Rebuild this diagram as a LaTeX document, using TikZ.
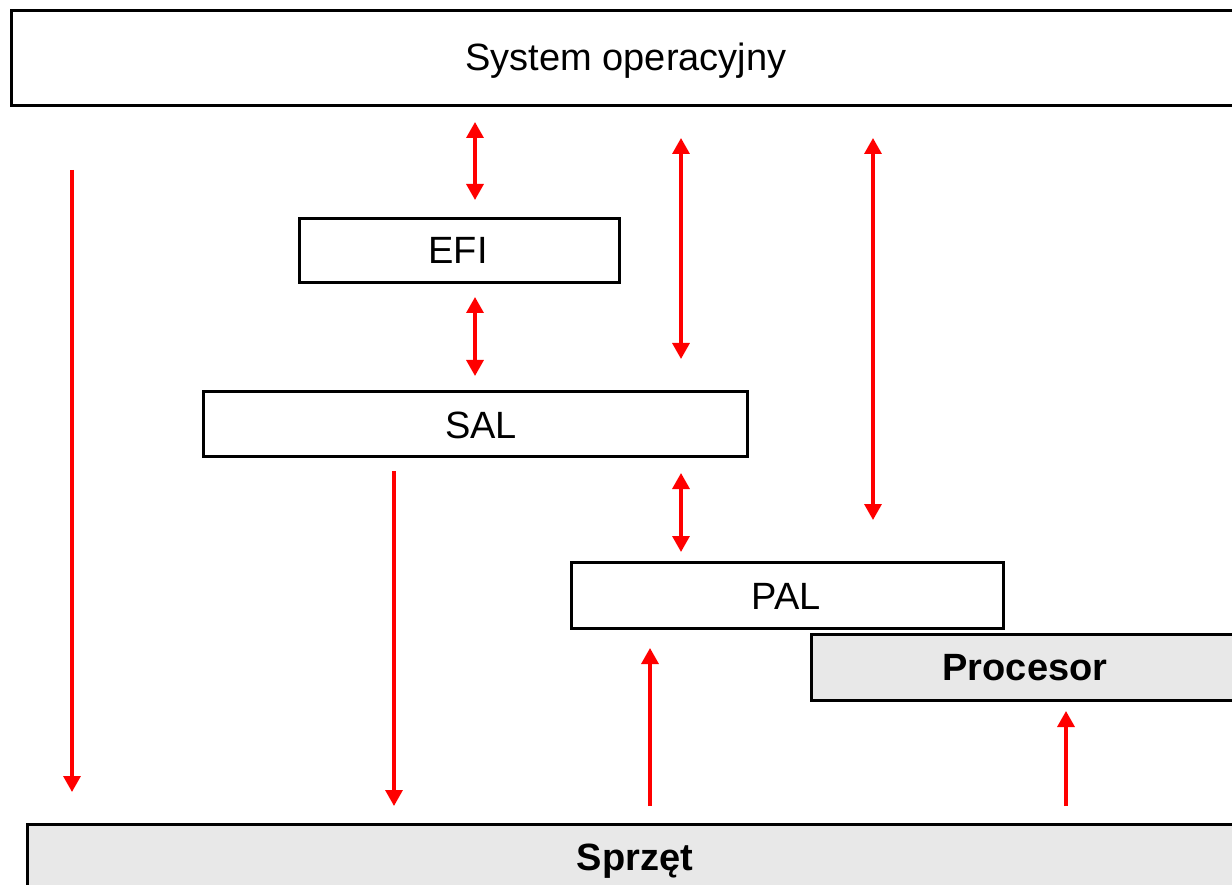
\documentclass[tikz,border=0pt]{standalone}
\usepackage{fontspec}
\setmainfont{Liberation Sans}
\usetikzlibrary{arrows.meta,calc}
\definecolor{boxgray}{HTML}{E8E8E8}
\tikzset{
  box/.style={draw=black, line width=2.8pt, rectangle, inner sep=0pt, anchor=north west,
    font=\fontsize{38}{44}\selectfont},
  hwbox/.style={box, fill=boxgray, font=\fontsize{38}{44}\selectfont\bfseries},
  lbl/.style={inner sep=0pt, font=\fontsize{38}{44}\selectfont},
  link/.style={draw=red, line width=3.3pt, -{Triangle[width=17pt,length=16pt]}},
  dlink/.style={draw=red, line width=3.3pt, {Triangle[width=17pt,length=16pt]}-{Triangle[width=17pt,length=16pt]}}
}
\begin{document}
\begin{tikzpicture}[x=1pt,y=-1pt]
  \clip (0,0) rectangle (1232,885);
  \fill[white] (0,0) rectangle (1232,885);

  % layers
  \node[box, minimum width=1232pt, minimum height=95pt] (os) at (10,9) {};
  \node[lbl] (ostext) at (626,61) {System operacyjny};
  \node[box, minimum width=320pt, minimum height=64pt] (efi) at (298,217) {};
  \node[lbl] (efitext) at (458,250) {EFI};
  \node[box, minimum width=544pt, minimum height=65pt] (sal) at (202,390) {};
  \node[lbl] (saltext) at (481,425) {SAL};
  \node[box, minimum width=432pt, minimum height=66pt] (pal) at (570,561) {};
  \node[lbl] (paltext) at (786,596) {PAL};
  \node[hwbox, minimum width=430pt, minimum height=66pt] (cpu) at (810,633) {};
  \node[lbl, font=\fontsize{38}{44}\selectfont\bfseries] (cputext) at (1025,668) {Procesor};
  \node[hwbox, minimum width=1220pt, minimum height=100pt] (hw) at (26,823) {};
  \node[lbl, font=\fontsize{38}{44}\selectfont\bfseries] (hwtext) at (635,861) {Sprzęt};

  % connector end points
  \coordinate (a1) at (475,122);  \coordinate (a2) at (475,200);
  \coordinate (b1) at (475,297);  \coordinate (b2) at (475,376);
  \coordinate (c1) at (681,138);  \coordinate (c2) at (681,359);
  \coordinate (d1) at (873,138);  \coordinate (d2) at (873,520);
  \coordinate (e1) at (72,170);   \coordinate (e2) at (72,792);
  \coordinate (f1) at (394,471);  \coordinate (f2) at (394,806);
  \coordinate (g1) at (681,473);  \coordinate (g2) at (681,552);
  \coordinate (h1) at (650,806);  \coordinate (h2) at (650,648);
  \coordinate (i1) at (1066,806); \coordinate (i2) at (1066,711);

  % interfaces
  \draw[dlink] (a1) -- (a2);
  \draw[dlink] (b1) -- (b2);
  \draw[dlink] (c1) -- (c2);
  \draw[dlink] (d1) -- (d2);
  \draw[dlink] (g1) -- (g2);
  \draw[link] (e1) -- (e2);
  \draw[link] (f1) -- (f2);
  \draw[link] (h1) -- (h2);
  \draw[link] (i1) -- (i2);
\end{tikzpicture}
\end{document}
